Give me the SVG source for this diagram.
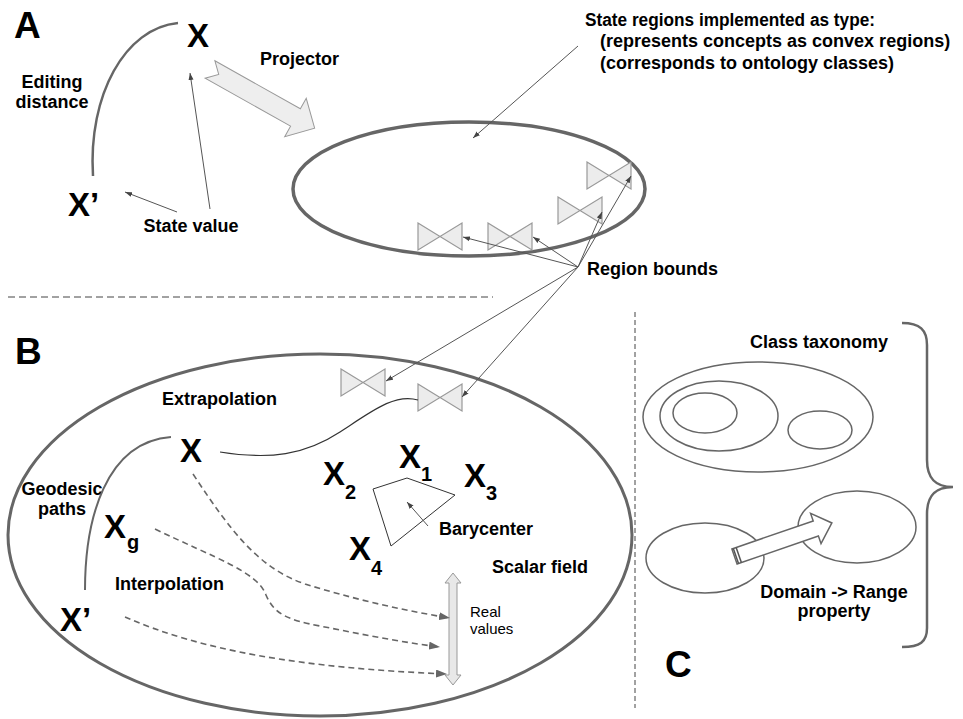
<svg xmlns="http://www.w3.org/2000/svg" width="963" height="719" viewBox="0 0 963 719">
<style>
text{font-family:"Liberation Sans",Arial,sans-serif;fill:#000}
.lbl{font-size:18px;font-weight:bold}
.big{font-size:33px;font-weight:bold}
.sub{font-size:20px;font-weight:bold}
.sec{font-size:37px;font-weight:bold}
.thin{fill:none;stroke:#555;stroke-width:1}
.dash{fill:none;stroke:#666;stroke-width:1.6;stroke-dasharray:6 4}
.bow{fill:#ececec;stroke:#999;stroke-width:1.2}
.region{fill:none;stroke:#666;stroke-width:3.5}
.cell{fill:none;stroke:#666;stroke-width:1.5}
</style>
<defs>
<marker id="ah" markerUnits="userSpaceOnUse" markerWidth="7" markerHeight="6" refX="7" refY="3" orient="auto">
<path d="M0,0.5 L7,3 L0,5.5 z" fill="#444"/>
</marker>
<marker id="dh" markerUnits="userSpaceOnUse" markerWidth="11" markerHeight="8" refX="11" refY="4" orient="auto">
<path d="M0,0 L11,4 L0,8 z" fill="#666"/>
</marker>
<polygon id="bowtie" points="0,0 44,27 44,0 0,27" class="bow"/>
</defs>

<!-- separators -->
<g id="separators">
<line x1="8" y1="297" x2="493" y2="297" stroke="#444" stroke-width="1" stroke-dasharray="7 4"/>
<line x1="635" y1="312" x2="635" y2="708" stroke="#444" stroke-width="1" stroke-dasharray="5 3"/>
</g>

<!-- Section A -->
<g id="section-A">
<text class="sec" x="14" y="38">A</text>
<g id="a-x"><text class="big" x="198" y="47" text-anchor="middle">X</text></g>
<g id="a-xprime"><text class="big" x="68" y="216">X’</text></g>
<g id="a-editing"><text class="lbl" x="52" y="88" text-anchor="middle">Editing</text><text class="lbl" x="52" y="108" text-anchor="middle">distance</text></g>
<g id="a-statevalue"><text class="lbl" x="191" y="232" text-anchor="middle">State value</text></g>
<g id="a-projector-label"><text class="lbl" x="260" y="65">Projector</text></g>
<g id="a-projector-arrow">
<polygon transform="translate(210,69.5) rotate(29.3)" points="0,-10 98,-10 98,-22 120,0 98,22 98,10 0,10 10,0" fill="#eeeeee" stroke="#999" stroke-width="1"/>
</g>
<g id="a-state-space"><ellipse cx="469" cy="189" rx="176" ry="67" class="region"/></g>
<g id="a-bounds">
<use href="#bowtie" x="418" y="223"/>
<use href="#bowtie" x="488" y="223"/>
<use href="#bowtie" x="558" y="197"/>
<use href="#bowtie" x="587" y="162"/>
</g>
<g id="a-stateregions-label">
<text class="lbl" x="585" y="26" textLength="290" lengthAdjust="spacingAndGlyphs">State regions implemented as type:</text>
<text class="lbl" x="600" y="47">(represents concepts as convex regions)</text>
<text class="lbl" x="600" y="69">(corresponds to ontology classes)</text>
</g>
<g id="regionbounds-label"><text class="lbl" x="587" y="275">Region bounds</text></g>
</g>

<!-- Section B -->
<g id="section-B">
<text class="sec" x="15" y="364">B</text>
<g id="b-scalar-field"><ellipse cx="320" cy="535" rx="312" ry="181" fill="none" stroke="#666" stroke-width="3"/></g>
<g id="b-bounds">
<use href="#bowtie" x="341" y="369"/>
<use href="#bowtie" x="418" y="384"/>
</g>
<g id="b-extrapolation"><text class="lbl" x="162" y="405">Extrapolation</text></g>
<g id="b-x"><text class="big" x="180" y="462">X</text></g>
<g id="b-geodesic"><text class="lbl" x="62" y="495" text-anchor="middle">Geodesic</text><text class="lbl" x="62" y="515" text-anchor="middle">paths</text></g>
<g id="b-xg"><text class="big" x="104" y="538">X</text><text class="sub" x="127" y="549">g</text></g>
<g id="b-interpolation"><text class="lbl" x="115" y="590">Interpolation</text></g>
<g id="b-xprime"><text class="big" x="60" y="631">X’</text></g>
<g id="b-x1"><text class="big" x="399" y="468">X</text><text class="sub" x="421" y="481">1</text></g>
<g id="b-x2"><text class="big" x="323" y="485">X</text><text class="sub" x="345" y="499">2</text></g>
<g id="b-x3"><text class="big" x="464" y="487">X</text><text class="sub" x="486" y="500">3</text></g>
<g id="b-x4"><text class="big" x="349" y="560">X</text><text class="sub" x="371" y="575">4</text></g>
<g id="b-polygon"><polygon points="373,489 407,478 455,495 391,546" fill="none" stroke="#333" stroke-width="1"/></g>
<g id="b-barycenter"><text class="lbl" x="439" y="535">Barycenter</text></g>
<g id="b-scalarfield-label"><text class="lbl" x="492" y="573">Scalar field</text></g>
<g id="b-realvalues">
<polygon points="453,573 461,583 457,583 457,675 461,675 453,685 445,675 449,675 449,583 445,583" fill="#e8e8e8" stroke="#999" stroke-width="1"/>
<text x="470" y="617" font-size="15">Real</text>
<text x="470" y="634" font-size="15">values</text>
</g>
</g>

<!-- Section C -->
<g id="section-C">
<text class="sec" x="665" y="677">C</text>
<g id="c-taxonomy-label"><text class="lbl" x="750" y="348">Class taxonomy</text></g>
<g id="c-outer"><ellipse cx="758" cy="417" rx="115" ry="55" class="cell"/></g>
<g id="c-middle"><ellipse cx="719" cy="416" rx="59" ry="35" class="cell"/></g>
<g id="c-inner"><ellipse cx="705" cy="413" rx="32" ry="20" class="cell"/></g>
<g id="c-sibling"><ellipse cx="820" cy="430" rx="32" ry="19" class="cell"/></g>
<g id="c-domain"><ellipse cx="705" cy="558" rx="59" ry="35" class="cell"/></g>
<g id="c-range"><ellipse cx="857" cy="527" rx="59" ry="36" class="cell"/></g>
<g id="c-property-arrow" transform="translate(734.5,556.5) rotate(-19)">
<polygon points="0,-8 86,-8 86,-16 103,0 86,16 86,8 0,8" fill="#fff" stroke="#666" stroke-width="1.5"/>
<line x1="1.5" y1="-8" x2="1.5" y2="8" stroke="#555" stroke-width="1.5"/>
<line x1="4.5" y1="-8" x2="4.5" y2="8" stroke="#555" stroke-width="1.5"/>
</g>
<g id="c-property-label"><text class="lbl" x="834" y="598" text-anchor="middle">Domain -&gt; Range</text><text class="lbl" x="834" y="617" text-anchor="middle">property</text></g>
<g id="c-brace"><path d="M902,323 C920,323 927,330 927,345 L927,460 C927,478 935,487 953,487 C935,487 927,496 927,514 L927,628 C927,642 920,647 902,647" fill="none" stroke="#666" stroke-width="2.5"/></g>
</g>

<!-- connectors -->
<g id="connectors">
<path d="M93,176 C88,95 125,28 178,23" fill="none" stroke="#666" stroke-width="2.5"/>
<line x1="177" y1="212" x2="125" y2="192" class="thin" marker-end="url(#ah)"/>
<line x1="210" y1="209" x2="190" y2="73" class="thin" marker-end="url(#ah)"/>
<line x1="578" y1="46" x2="473" y2="138" class="thin" marker-end="url(#ah)"/>
<line x1="578" y1="267" x2="463" y2="237" class="thin" marker-end="url(#ah)"/>
<line x1="578" y1="267" x2="533" y2="237" class="thin" marker-end="url(#ah)"/>
<line x1="578" y1="267" x2="602" y2="212" class="thin" marker-end="url(#ah)"/>
<line x1="578" y1="267" x2="631" y2="176" class="thin" marker-end="url(#ah)"/>
<line x1="578" y1="267" x2="386" y2="381" class="thin" marker-end="url(#ah)"/>
<line x1="578" y1="267" x2="462" y2="397" class="thin" marker-end="url(#ah)"/>
<path d="M85,590 C85,520 105,442 171,437" fill="none" stroke="#666" stroke-width="2"/>
<path d="M220,452 C270,460 305,455 340,432 C372,411 395,393 418,400" fill="none" stroke="#333" stroke-width="1.2"/>
<line x1="428" y1="526" x2="407" y2="502" class="thin" marker-end="url(#ah)"/>
<path d="M193,474 C230,530 258,568 305,584 C350,598 400,610 450,618" class="dash" marker-end="url(#dh)"/>
<path d="M155,529 C215,558 258,572 266,595 C274,614 288,620 320,626 C360,634 400,642 440,647" class="dash" marker-end="url(#dh)"/>
<path d="M125,617 C200,650 300,668 447,674" class="dash" marker-end="url(#dh)"/>
</g>
</svg>
